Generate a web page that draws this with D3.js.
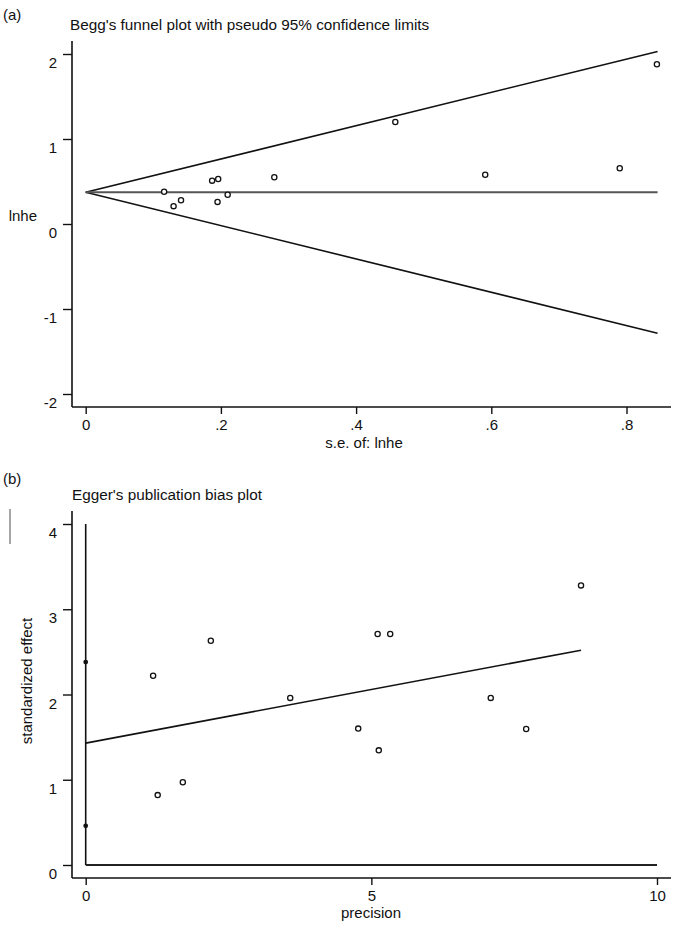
<!DOCTYPE html>
<html>
<head>
<meta charset="utf-8">
<script src="https://cdn.jsdelivr.net/npm/d3@7"></script>
<style>
  html, body { margin: 0; padding: 0; background: #fff; }
  svg { display: block; }
  text { font-family: "Liberation Sans", Arial, Helvetica, sans-serif; fill: #111; }
</style>
</head>
<body>
<svg id="chart" width="675" height="929"></svg>
<script>
// ---------- Panel (a): Begg's funnel plot ----------
const beggSE   = [0.116, 0.130, 0.141, 0.187, 0.196, 0.195, 0.210, 0.279, 0.458, 0.591, 0.790, 0.845];
const beggLnhe = [0.38, 0.21, 0.28, 0.51, 0.53, 0.26, 0.345, 0.55, 1.20, 0.58, 0.655, 1.88];
const beggPooled = 0.373;
const funnelSE    = [0, 0.846];
const funnelUpper = [0.373, 2.03];
const funnelLower = [0.373, -1.285];
const beggXTicks = [0, 0.2, 0.4, 0.6, 0.8];
const beggXTickLabels = ["0", ".2", ".4", ".6", ".8"];
const beggYTicks = [-2, -1, 0, 1, 2];
const beggYTickLabels = ["-2", "-1", "0", "1", "2"];

// ---------- Panel (b): Egger's publication bias plot ----------
const eggerPrecision = [1.18, 1.26, 1.70, 2.19, 3.58, 4.77, 5.11, 5.13, 5.33, 7.09, 7.71, 8.67];
const eggerEffect    = [2.22, 0.82, 0.97, 2.63, 1.96, 1.60, 2.71, 1.345, 2.71, 1.96, 1.595, 3.28];
const eggerCI        = [0.46, 2.38];
const eggerFitX      = [0, 8.67];
const eggerFitY      = [1.43, 2.52];
const eggerXTicks = [0, 5, 10];
const eggerXTickLabels = ["0", "5", "10"];
const eggerYTicks = [0, 1, 2, 3, 4];
const eggerYTickLabels = ["0", "1", "2", "3", "4"];

const svg = d3.select("#chart");

function panel(g, o) {
  g.append("line").attr("x1", o.axX).attr("x2", o.axX).attr("y1", o.axTop).attr("y2", o.axBottom)
    .attr("stroke", "#111").attr("stroke-width", 1.6);
  g.append("line").attr("x1", o.axX).attr("x2", o.axRight).attr("y1", o.axBottom).attr("y2", o.axBottom)
    .attr("stroke", "#111").attr("stroke-width", 1.6);

  const ya = d3.axisLeft(o.y).tickValues(o.yTicks).tickSize(9)
    .tickFormat((d, i) => o.yLabels[i]);
  const yg = g.append("g").attr("transform", `translate(${o.axX},0)`).call(ya);
  yg.select(".domain").remove();
  yg.selectAll(".tick line").attr("stroke", "#111").attr("stroke-width", 1.4);
  yg.selectAll(".tick text").attr("x", -15).attr("dy", "0.9em")
    .style("font-size", "15px").attr("fill", "#111");

  const xa = d3.axisBottom(o.x).tickValues(o.xTicks).tickSize(7)
    .tickFormat((d, i) => o.xLabels[i]);
  const xg = g.append("g").attr("transform", `translate(0,${o.axBottom})`).call(xa);
  xg.select(".domain").remove();
  xg.selectAll(".tick line").attr("stroke", "#111").attr("stroke-width", 1.4);
  xg.selectAll(".tick text").attr("y", 12).attr("dy", "0.72em")
    .style("font-size", "15px").attr("fill", "#111");
}

// ---------- Panel (a) ----------
const xA = d3.scaleLinear().domain([0, 0.8]).range([85.7, 626.5]);
const yA = d3.scaleLinear().domain([-2, 2]).range([394, 54]);
const gA = svg.append("g");

svg.append("text").attr("x", 3).attr("y", 20).text("(a)").style("font-size", "15px");
gA.append("text").attr("x", 70).attr("y", 30)
  .text("Begg's funnel plot with pseudo 95% confidence limits").style("font-size", "15.3px");

panel(gA, {x: xA, y: yA, axX: 72, axTop: 41, axBottom: 407, axRight: 671,
  yTicks: beggYTicks, yLabels: beggYTickLabels, xTicks: beggXTicks, xLabels: beggXTickLabels});

gA.append("text").attr("x", 37).attr("y", 221).attr("text-anchor", "end")
  .text("lnhe").style("font-size", "15px");
gA.append("text").attr("x", 364).attr("y", 448).attr("text-anchor", "middle")
  .text("s.e. of: lnhe").style("font-size", "15px");

const line = d3.line();
gA.append("path")
  .attr("d", line(funnelSE.map((s, i) => [xA(s), yA(funnelUpper[i])])))
  .attr("stroke", "#111").attr("stroke-width", 1.6).attr("fill", "none");
gA.append("path")
  .attr("d", line(funnelSE.map((s, i) => [xA(s), yA(funnelLower[i])])))
  .attr("stroke", "#111").attr("stroke-width", 1.6).attr("fill", "none");
gA.append("line")
  .attr("x1", xA(funnelSE[0])).attr("x2", xA(funnelSE[1]))
  .attr("y1", yA(beggPooled)).attr("y2", yA(beggPooled))
  .attr("stroke", "#555").attr("stroke-width", 2);

gA.selectAll("circle.pt").data(beggSE).join("circle").attr("class", "pt")
  .attr("cx", d => xA(d)).attr("cy", (d, i) => yA(beggLnhe[i])).attr("r", 2.6)
  .attr("fill", "#fff").attr("stroke", "#111").attr("stroke-width", 1.3);

// ---------- Panel (b) ----------
const xB = d3.scaleLinear().domain([0, 10]).range([85.7, 657]);
const yB = d3.scaleLinear().domain([0, 4]).range([865, 524]);
const gB = svg.append("g");

svg.append("text").attr("x", 3).attr("y", 484).text("(b)").style("font-size", "15px");
gB.append("text").attr("x", 72).attr("y", 500)
  .text("Egger's publication bias plot").style("font-size", "15.3px");
svg.append("line").attr("x1", 10).attr("x2", 10).attr("y1", 509).attr("y2", 544)
  .attr("stroke", "#888").attr("stroke-width", 1.5);

panel(gB, {x: xB, y: yB, axX: 72, axTop: 511, axBottom: 878, axRight: 671,
  yTicks: eggerYTicks, yLabels: eggerYTickLabels, xTicks: eggerXTicks, xLabels: eggerXTickLabels});

gB.append("text").attr("transform", "translate(32,681) rotate(-90)")
  .attr("text-anchor", "middle").text("standardized effect").style("font-size", "15px");
gB.append("text").attr("x", 371).attr("y", 918).attr("text-anchor", "middle")
  .text("precision").style("font-size", "15px");

gB.append("line").attr("x1", xB(0)).attr("x2", xB(0)).attr("y1", yB(0)).attr("y2", yB(4))
  .attr("stroke", "#111").attr("stroke-width", 1.6);
gB.append("line").attr("x1", xB(0)).attr("x2", xB(10)).attr("y1", yB(0)).attr("y2", yB(0))
  .attr("stroke", "#222").attr("stroke-width", 1.8);

gB.append("path")
  .attr("d", line(eggerFitX.map((p, i) => [xB(p), yB(eggerFitY[i])])))
  .attr("stroke", "#111").attr("stroke-width", 1.6).attr("fill", "none");

gB.selectAll("circle.ci").data(eggerCI).join("circle").attr("class", "ci")
  .attr("cx", xB(0)).attr("cy", d => yB(d)).attr("r", 2.4).attr("fill", "#111");

gB.selectAll("circle.pt").data(eggerPrecision).join("circle").attr("class", "pt")
  .attr("cx", d => xB(d)).attr("cy", (d, i) => yB(eggerEffect[i])).attr("r", 2.6)
  .attr("fill", "#fff").attr("stroke", "#111").attr("stroke-width", 1.3);
</script>
</body>
</html>
